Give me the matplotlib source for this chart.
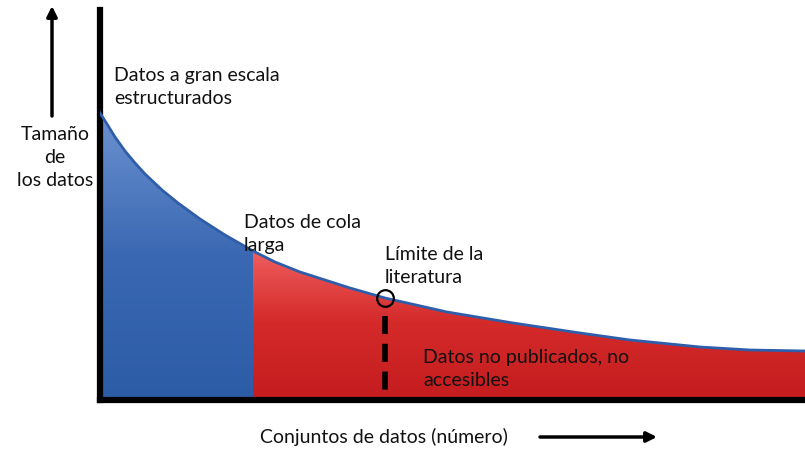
import numpy as np
import matplotlib
matplotlib.use("Agg")
import matplotlib.pyplot as plt
from matplotlib.colors import LinearSegmentedColormap

plt.rcParams['font.family'] = ['Lato', 'DejaVu Sans']
plt.rcParams['lines.scale_dashes'] = False

# curve (x: dataset rank, y: data size, arbitrary units)
x_vals = [0, 7, 15, 25, 35, 45, 62, 78, 100, 125, 153, 175, 200, 250, 285, 347, 413, 480, 530, 600, 650, 705]
y_vals = [287, 276, 263, 249, 237, 226, 210, 197, 181, 165, 149, 138, 128, 112, 102, 88, 77, 67, 60, 53, 50, 49]
long_tail_start = 153
literature_limit = 285
literature_y = 102

fig = plt.figure(figsize=(8.05, 4.5), dpi=100)
ax = fig.add_axes([100/805, 50/450, 705/805, 390/450])
ax.set_xlim(0, 705)
ax.set_ylim(0, 390)

x = np.array(x_vals, float)
y = np.array(y_vals, float)

blue_cmap = LinearSegmentedColormap.from_list('b', ['#2d5ca6', '#3a68b2', '#6d93d2'])
red_cmap = LinearSegmentedColormap.from_list('r', ['#c41c1f', '#d42a2a', '#f26363'])
grad = np.linspace(0, 1, 256).reshape(-1, 1)

def gradient_fill(xs, ys, cmap, top):
    poly = ax.fill_between(xs, 0, ys, color='none', lw=0)
    im = ax.imshow(grad, cmap=cmap, aspect='auto', origin='lower',
                   extent=[xs[0], xs[-1], 0, top], zorder=1)
    path = poly.get_paths()[0]
    im.set_clip_path(path, transform=ax.transData)

m1 = x <= long_tail_start
gradient_fill(x[m1], y[m1], blue_cmap, 290)
m2 = x >= long_tail_start
gradient_fill(x[m2], y[m2], red_cmap, 155)

ax.plot(x, y, color='#2e5eaa', lw=2, zorder=3, solid_joinstyle='round')
ax.plot([literature_limit, literature_limit], [literature_y - 18, 0], color='black', lw=4,
        dashes=(13, 7), zorder=4)
ax.plot([literature_limit], [literature_y], marker='o', ms=12, mfc='none', mec='black',
        mew=1.6, zorder=5)

for s in ['top', 'right']:
    ax.spines[s].set_visible(False)
ax.spines['left'].set_linewidth(4.5)
ax.spines['bottom'].set_linewidth(4.5)
ax.set_xticks([])
ax.set_yticks([])
ax.set_zorder(2)

tc = '#111111'
fs = 14
ls = 1.42
fig.text(114/805, 1 - 67/450, 'Datos a gran escala\nestructurados', fontsize=fs, color=tc,
         va='top', ha='left', linespacing=ls)
fig.text(55/805, 1 - 126/450, 'Tamaño\nde\nlos datos', fontsize=fs, color=tc,
         va='top', ha='center', multialignment='center', linespacing=ls)
fig.text(244/805, 1 - 214/450, 'Datos de cola\nlarga', fontsize=fs, color=tc,
         va='top', ha='left', linespacing=ls)
fig.text(385/805, 1 - 246/450, 'Límite de la\nliteratura', fontsize=fs, color=tc,
         va='top', ha='left', linespacing=ls)
fig.text(423/805, 1 - 349/450, 'Datos no publicados, no\naccesibles', fontsize=fs, color=tc,
         va='top', ha='left', linespacing=ls)
fig.text(260/805, 1 - 437/450, 'Conjuntos de datos (número)', fontsize=fs, color=tc,
         va='center', ha='left')

fig.add_artist(matplotlib.patches.FancyArrowPatch(
    (52/805, 1 - 116/450), (52/805, 1 - 6/450), transform=fig.transFigure,
    arrowstyle='-|>,head_length=6,head_width=3', lw=2.5, color='black', shrinkA=0, shrinkB=0))
fig.add_artist(matplotlib.patches.FancyArrowPatch(
    (540/805, 1 - 437/450), (657/805, 1 - 437/450), transform=fig.transFigure,
    arrowstyle='-|>,head_length=6,head_width=3', lw=2.5, color='black', shrinkA=0, shrinkB=0))

fig.savefig('out.png', dpi=100)
